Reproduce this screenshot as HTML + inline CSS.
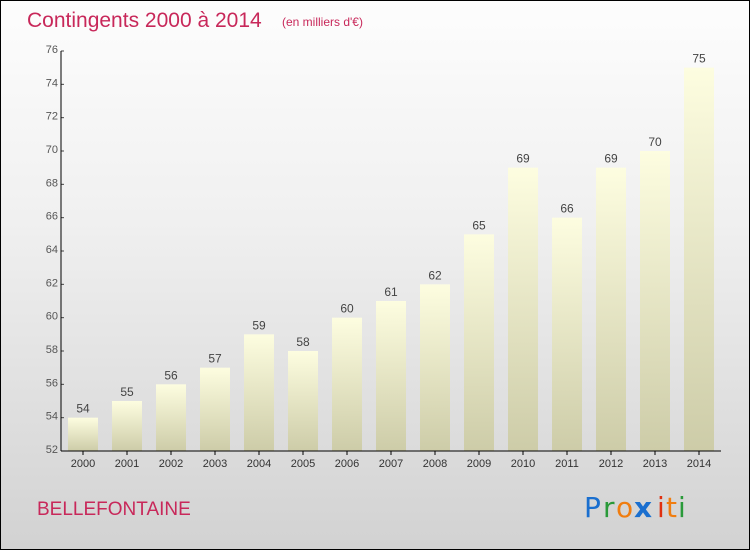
<!DOCTYPE html>
<html><head><meta charset="utf-8"><style>
body{margin:0}
#c{width:748px;height:548px;border:1px solid #000;background:linear-gradient(#fdfdfd,#f0f0f0 40%,#d2d2d2);position:relative;font-family:"Liberation Sans",sans-serif;overflow:hidden}
svg{position:absolute;left:0;top:0}
</style></head><body>
<div id="c">
<svg id="s" width="750" height="550">
<defs><linearGradient id="g" x1="0" y1="0" x2="0" y2="1"><stop offset="0" stop-color="#fdfde0"/><stop offset="1" stop-color="#cdcca8"/></linearGradient></defs>
<text x="26" y="26" font-size="21" fill="#c8285a">Contingents 2000 à 2014</text>
<text x="281" y="25" font-size="12" fill="#c8285a">(en milliers d'€)</text>
<text x="36" y="514" font-size="19" fill="#c8285a">BELLEFONTAINE</text>
<g font-size="28" font-family="'DejaVu Sans',sans-serif">
<text x="583" y="516" fill="#1a6fcf">P</text><text x="602" y="516" fill="#2a9a3a">r</text><text x="615" y="516" fill="#f07d10">o</text><text x="633" y="516" fill="#1a6fcf" font-weight="bold">x</text><text x="656" y="516" fill="#e03010">i</text><text x="665" y="516" fill="#f07d10">t</text><text x="677" y="516" fill="#2a9a3a">i</text></g>
</svg></div>
<script>
const years=["2000","2001","2002","2003","2004","2005","2006","2007","2008","2009","2010","2011","2012","2013","2014"];
const values=[54,55,56,57,59,58,60,61,62,65,69,66,69,70,75];
const yTicks=[52,54,56,58,60,62,64,66,68,70,72,74,76];
const s=document.getElementById('s');const NS='http://www.w3.org/2000/svg';
const x0=60,x1=720,yTop=50,yBot=450,ymin=52,ymax=76;
const y=v=>yBot-(v-ymin)/(ymax-ymin)*(yBot-yTop);
const slot=(x1-x0)/years.length;const xc=i=>x0+slot*(i+0.5);
function mk(t,a,txt){const e=document.createElementNS(NS,t);for(const k in a)e.setAttribute(k,a[k]);if(txt!=null)e.textContent=txt;s.appendChild(e);return e;}
yTicks.forEach(v=>{
const tk=mk('line',{x1:x0,x2:x0+3,y1:y(v),y2:y(v),stroke:'#444'});


const t=mk('text',{x:x0-3,y:y(v)+2,'font-size':11,fill:'#555','text-anchor':'end'},v);


});
values.forEach((v,i)=>{
const b=mk('rect',{x:xc(i)-15,y:y(v),width:30,height:yBot-y(v),fill:'url(#g)'});


const t=mk('text',{x:xc(i),y:y(v)-5,'font-size':12,fill:'#444','text-anchor':'middle'},v);


const tk=mk('line',{x1:xc(i),x2:xc(i),y1:yBot,y2:yBot+4,stroke:'#000'});


const xl=mk('text',{x:xc(i),y:yBot+16,'font-size':11,fill:'#333','text-anchor':'middle'},years[i]);


});
const ya=mk('line',{x1:x0,x2:x0,y1:yTop,y2:yBot,stroke:'#000'});


const xa=mk('line',{x1:x0,x2:x1,y1:yBot,y2:yBot,stroke:'#000'});


</script>
</body></html>
